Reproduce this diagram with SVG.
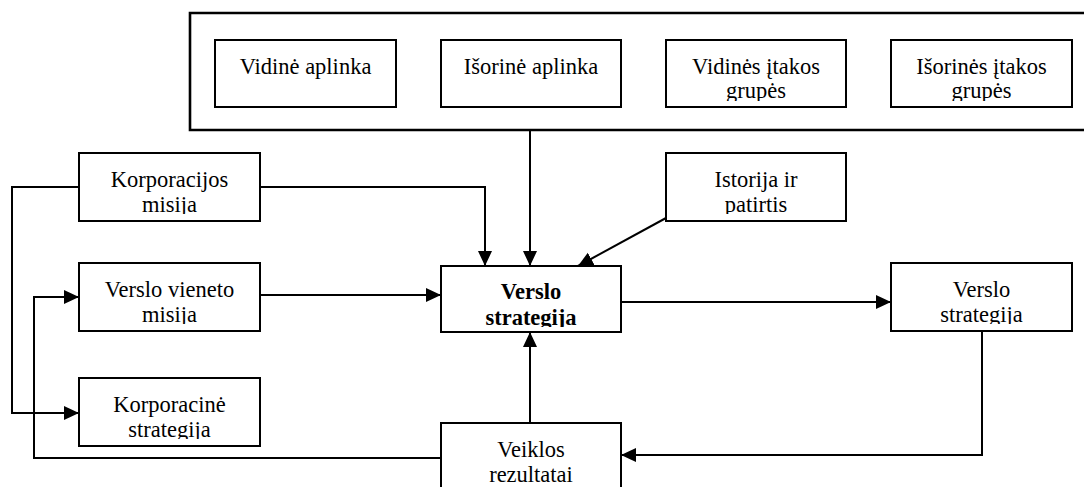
<svg xmlns="http://www.w3.org/2000/svg" width="1084" height="487" viewBox="0 0 1084 487">
<style>
.box{fill:#fff;stroke:#000;stroke-width:2}
.frame{fill:none;stroke:#000;stroke-width:2.6}
.t{font-family:"Liberation Serif","Times New Roman",serif;font-size:22.5px;fill:#000;text-anchor:middle}
.b{font-weight:bold}
.c{fill:none;stroke:#000;stroke-width:2}
</style>
<defs>
<marker id="ah" markerUnits="userSpaceOnUse" markerWidth="16" markerHeight="16" viewBox="0 0 16 16" refX="15" refY="8" orient="auto">
<path d="M0,1 L15,8 L0,15 Z" fill="#000"/>
</marker>
<clipPath id="c1"><rect x="215" y="40" width="181" height="61"/></clipPath>
<clipPath id="c2"><rect x="441" y="40" width="180" height="61"/></clipPath>
<clipPath id="c3"><rect x="666" y="40" width="180" height="61"/></clipPath>
<clipPath id="c4"><rect x="891" y="40" width="181" height="61"/></clipPath>
<clipPath id="c5"><rect x="79" y="153" width="181" height="61"/></clipPath>
<clipPath id="c6"><rect x="666" y="153" width="180" height="61"/></clipPath>
<clipPath id="c7"><rect x="79" y="263" width="181" height="61"/></clipPath>
<clipPath id="c8"><rect x="441" y="266" width="180" height="61"/></clipPath>
<clipPath id="c9"><rect x="891" y="263" width="181" height="61"/></clipPath>
<clipPath id="c10"><rect x="79" y="378" width="181" height="61"/></clipPath>
<clipPath id="c11"><rect x="441" y="423" width="180" height="70"/></clipPath>
</defs>
<rect width="1084" height="487" fill="#fff"/>

<g id="frame">
<path class="frame" d="M1084,13 H190 V130 H1084"/>
</g>

<g id="connectors">
<path class="c" d="M530,130 V266" marker-end="url(#ah)"/>
<path class="c" d="M260,187 H485 V266" marker-end="url(#ah)"/>
<path class="c" d="M79,187 H12 V413 H79" marker-end="url(#ah)"/>
<path class="c" d="M666,218 L578,266" marker-end="url(#ah)"/>
<path class="c" d="M260,295 H441" marker-end="url(#ah)"/>
<path class="c" d="M621,302 H891" marker-end="url(#ah)"/>
<path class="c" d="M982,331 V455 H621" marker-end="url(#ah)"/>
<path class="c" d="M530,423 V332" marker-end="url(#ah)"/>
<path class="c" d="M441,458 H34 V297 H79" marker-end="url(#ah)"/>
</g>

<g id="n-vidine-aplinka">
<rect class="box" x="215" y="40" width="181" height="67"/>
<text class="t" x="305.5" y="74" clip-path="url(#c1)">Vidinė aplinka</text>
</g>
<g id="n-isorine-aplinka">
<rect class="box" x="441" y="40" width="180" height="67"/>
<text class="t" x="531" y="74" clip-path="url(#c2)">Išorinė aplinka</text>
</g>
<g id="n-vidines-itakos">
<rect class="box" x="666" y="40" width="180" height="67"/>
<text class="t" x="756" y="74" clip-path="url(#c3)">Vidinės įtakos</text>
<text class="t" x="756" y="97.5" clip-path="url(#c3)">grupės</text>
</g>
<g id="n-isorines-itakos">
<rect class="box" x="891" y="40" width="181" height="67"/>
<text class="t" x="981.5" y="74" clip-path="url(#c4)">Išorinės įtakos</text>
<text class="t" x="981.5" y="97.5" clip-path="url(#c4)">grupės</text>
</g>
<g id="n-korporacijos-misija">
<rect class="box" x="79" y="153" width="181" height="68"/>
<text class="t" x="169.5" y="187" clip-path="url(#c5)">Korporacijos</text>
<text class="t" x="169.5" y="212" clip-path="url(#c5)">misija</text>
</g>
<g id="n-istorija">
<rect class="box" x="666" y="153" width="180" height="68"/>
<text class="t" x="756" y="187" clip-path="url(#c6)">Istorija ir</text>
<text class="t" x="756" y="212" clip-path="url(#c6)">patirtis</text>
</g>
<g id="n-verslo-vieneto-misija">
<rect class="box" x="79" y="263" width="181" height="68"/>
<text class="t" x="169.5" y="297" clip-path="url(#c7)">Verslo vieneto</text>
<text class="t" x="169.5" y="322" clip-path="url(#c7)">misija</text>
</g>
<g id="n-verslo-strategija-center">
<rect class="box" x="441" y="266" width="180" height="66"/>
<text class="t b" x="531" y="298.5" clip-path="url(#c8)">Verslo</text>
<text class="t b" x="531" y="325" clip-path="url(#c8)">strategija</text>
</g>
<g id="n-verslo-strategija-right">
<rect class="box" x="891" y="263" width="181" height="68"/>
<text class="t" x="981.5" y="297" clip-path="url(#c9)">Verslo</text>
<text class="t" x="981.5" y="322" clip-path="url(#c9)">strategija</text>
</g>
<g id="n-korporacine-strategija">
<rect class="box" x="79" y="378" width="181" height="68"/>
<text class="t" x="169.5" y="412" clip-path="url(#c10)">Korporacinė</text>
<text class="t" x="169.5" y="437" clip-path="url(#c10)">strategija</text>
</g>
<g id="n-veiklos-rezultatai">
<rect class="box" x="441" y="423" width="180" height="70"/>
<text class="t" x="531" y="457" clip-path="url(#c11)">Veiklos</text>
<text class="t" x="531" y="482" clip-path="url(#c11)">rezultatai</text>
</g>
</svg>
